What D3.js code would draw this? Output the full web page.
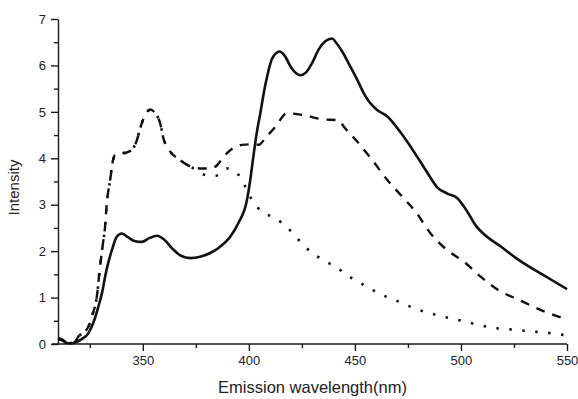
<!DOCTYPE html>
<html>
<head>
<meta charset="utf-8">
<script src="https://cdn.jsdelivr.net/npm/d3@7"></script>
<style>
  body { margin: 0; background: #fff; }
  svg { font-family: "Liberation Sans", Arial, sans-serif; }
</style>
</head>
<body>
<div id="chart"></div>
<script>
// solid line
const solidNm = [310,312,314,316,318,321,324.3,327,329,331,332.2,334,335.4,337.7,340.1,343,346,349.5,353,356.6,360,364,368,372.4,377,381.8,386,391.2,395,399.1,400.7,402,403.9,405.4,407,408.6,411,414.5,417,420,424.3,427,429.8,433,436,439.3,441,444,447.9,451,454.2,457,460.5,465.3,471.5,479.4,484,488.9,493.6,498.3,503,507,512,518.8,526,534.5,542,550];
const solidVal = [0.1,0.08,0.02,0.01,0.03,0.1,0.23,0.5,0.8,1.15,1.45,1.8,2.02,2.31,2.38,2.3,2.22,2.2,2.28,2.33,2.25,2.05,1.9,1.85,1.88,1.96,2.08,2.31,2.6,3.1,3.55,4.0,4.6,4.97,5.4,5.76,6.15,6.3,6.2,5.95,5.79,5.85,6.05,6.35,6.52,6.58,6.5,6.3,5.97,5.7,5.4,5.2,5.04,4.9,4.56,4.03,3.7,3.37,3.24,3.14,2.85,2.55,2.32,2.1,1.85,1.6,1.4,1.18];

// dashed line
const dashNm = [310,312,314,316,318,319.6,322,324.3,326,328.3,329.8,331,332.2,333,334.6,335.4,336.9,340.1,342,344.8,347.2,348.7,351.1,353.5,355.8,358.2,359.7,362.1,367.6,373.9,378,381.8,385,388,392,396.8,401,404.6,408,412.5,418,425.9,434.6,442.4,444.8,451.1,458.2,465.3,472.4,478.6,485.7,493.6,501.5,509.3,518,527.4,537.7,550];
const dashVal = [0.12,0.1,0.03,0.02,0.05,0.16,0.25,0.37,0.6,1.02,1.66,2.1,2.53,3.03,3.53,3.82,4.07,4.11,4.12,4.18,4.39,4.64,4.93,5.05,4.97,4.75,4.43,4.2,3.96,3.8,3.78,3.78,3.85,4.03,4.2,4.29,4.3,4.29,4.45,4.68,4.97,4.93,4.84,4.82,4.68,4.36,3.96,3.53,3.17,2.85,2.38,2.02,1.77,1.45,1.15,0.95,0.73,0.53];

// dotted line
const dotNm = [310,312,314,316,318,319.6,322,324.3,326,328.3,329.8,331,332.2,333,334.6,335.4,336.9,340.1,342,344.8,347.2,348.7,351.1,353.5,355.8,358.2,359.7,362.1,367.6,373.9,378.6,384.2,389.7,394.4,398.3,401.5,406.2,412.5,418.5,423.5,429,435,441.3,447.1,453.5,459.7,465.7,471.9,477.8,484.2,490.4,496.7,503,508.5,514.9,521.2,527.4,533,539.2,545.6,550];
const dotVal = [0.12,0.1,0.03,0.02,0.05,0.16,0.25,0.37,0.6,1.02,1.66,2.1,2.53,3.03,3.53,3.82,4.07,4.11,4.12,4.18,4.39,4.64,4.93,5.05,4.97,4.75,4.43,4.2,3.96,3.78,3.65,3.62,3.78,3.68,3.39,3.1,2.85,2.71,2.49,2.24,1.99,1.81,1.65,1.46,1.29,1.13,1.0,0.89,0.77,0.68,0.6,0.54,0.47,0.41,0.35,0.32,0.3,0.27,0.25,0.21,0.19];

const xTicks = [350, 400, 450, 500, 550];
const xMinor = [325, 375, 425, 475, 525];
const yTicks = [0, 1, 2, 3, 4, 5, 6, 7];
const yMinor = [0.5, 1.5, 2.5, 3.5, 4.5, 5.5, 6.5];

const W = 578, H = 399;
const margin = { top: 19, right: 11, bottom: 55, left: 58 };
const width = W - margin.left - margin.right;
const height = H - margin.top - margin.bottom;

const svg = d3.select('#chart')
  .append('svg')
  .attr('width', W)
  .attr('height', H)
  .append('g')
  .attr('transform', `translate(${margin.left},${margin.top})`);

const x = d3.scaleLinear().domain([310, 550]).range([0, width]);
const y = d3.scaleLinear().domain([0, 7]).range([height, 0]);

// x axis
const gx = svg.append('g')
  .attr('transform', `translate(0,${height})`)
  .call(d3.axisBottom(x).tickValues(xTicks).tickFormat(d3.format('d')).tickSize(7).tickSizeOuter(0).tickPadding(5));
svg.append('g')
  .attr('transform', `translate(0,${height})`)
  .call(d3.axisBottom(x).tickValues(xMinor).tickSize(4).tickSizeOuter(0).tickFormat(''))
  .select('.domain').remove();

// y axis
const gy = svg.append('g')
  .call(d3.axisLeft(y).tickValues(yTicks).tickFormat(d3.format('d')).tickSize(7).tickSizeOuter(0).tickPadding(5));
svg.append('g')
  .call(d3.axisLeft(y).tickValues(yMinor).tickSize(4).tickSizeOuter(0).tickFormat(''))
  .select('.domain').remove();

// extend x baseline a bit to the left, like the original
gx.select('.domain').attr('d', `M-6,0H${width}`);

svg.selectAll('.domain, .tick line').attr('stroke', '#1a1a1a').attr('stroke-width', 1.4);
svg.selectAll('.tick text').attr('font-size', 13).attr('fill', '#222');

// lines
const line = d3.line()
  .x(d => x(d[0]))
  .y(d => y(d[1]))
  .curve(d3.curveMonotoneX);

svg.append('path')
  .datum(dotNm.map((v, i) => [v, dotVal[i]]))
  .attr('d', line)
  .style('fill', 'none')
  .style('stroke', '#111')
  .style('stroke-width', 2.6)
  .style('stroke-dasharray', '2.5,10.5');

svg.append('path')
  .datum(dashNm.map((v, i) => [v, dashVal[i]]))
  .attr('d', line)
  .style('fill', 'none')
  .style('stroke', '#111')
  .style('stroke-width', 2.4)
  .style('stroke-dasharray', '9,8');

svg.append('path')
  .datum(solidNm.map((v, i) => [v, solidVal[i]]))
  .attr('d', line)
  .style('fill', 'none')
  .style('stroke', '#111')
  .style('stroke-width', 2.6);

// axis titles
svg.append('text')
  .attr('x', width / 2)
  .attr('y', height + 49)
  .attr('text-anchor', 'middle')
  .attr('font-size', 16.5)
  .attr('fill', '#222')
  .text('Emission wavelength(nm)');

svg.append('text')
  .attr('transform', `translate(${-39},${height / 2 + 6}) rotate(-90)`)
  .attr('text-anchor', 'middle')
  .attr('font-size', 15)
  .attr('fill', '#222')
  .text('Intensity');
</script>
</body>
</html>
